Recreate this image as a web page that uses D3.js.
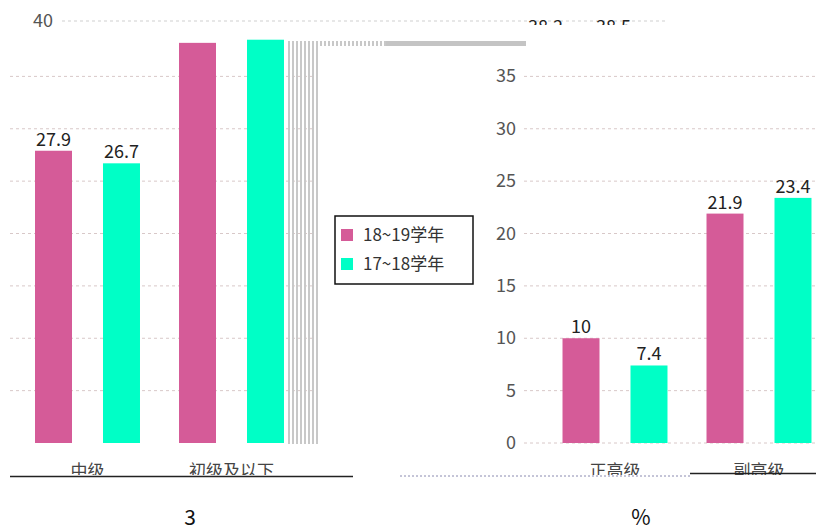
<!DOCTYPE html>
<html>
<head>
<meta charset="utf-8">
<script src="https://cdn.jsdelivr.net/npm/d3@7"></script>
<style>
  body { margin: 0; background: #fff; }
  svg { display: block; font-family: "Noto Sans CJK SC", "DejaVu Sans", sans-serif; }
</style>
</head>
<body>
<div id="chart"></div>
<script>
// data
const seriesNames = ["18~19学年", "17~18学年"];
const seriesColors = ["#d55b98", "#00ffc6"];
const leftCats = ["中级", "初级及以下"];
const leftA = [27.9, 38.2];
const leftB = [26.7, 38.5];
const rightCats = ["正高级", "副高级"];
const rightA = [10, 21.9];
const rightB = [7.4, 23.4];
const yTicks = [0, 5, 10, 15, 20, 25, 30, 35];
const titles = ["3", "%"];

const W = 816, H = 531;

let svg = d3.select("#chart")
    .append("svg")
    .attr("width", W)
    .attr("height", H);

let defs = svg.append("defs");
defs.append("clipPath").attr("id", "clipLabels")
    .append("rect").attr("x", 0).attr("y", 0).attr("width", W).attr("height", 475);
defs.append("clipPath").attr("id", "clipTop")
    .append("rect").attr("x", 0).attr("y", 0).attr("width", W).attr("height", 25);
let pat = defs.append("pattern").attr("id", "stripes")
    .attr("patternUnits", "userSpaceOnUse").attr("width", 4).attr("height", 4);
pat.append("rect").attr("x", 0).attr("y", 0).attr("width", 2).attr("height", 4).attr("fill", "#c8c8c8");

/* Scales */
let yScale = d3.scaleLinear().domain([0, 40]).range([443, 24]);

let xLeft = d3.scaleBand().domain(leftCats).range([15.5, 303.5]);
let xRight = d3.scaleBand().domain(rightCats).range([543, 831]);
let xSub = d3.scaleBand().domain(seriesNames)
    .range([0, 144]).paddingInner(0.456).paddingOuter(0.287);

/* Gridlines */
let grid = svg.append("g");
grid.selectAll(".gl")
    .data(yTicks.filter(d => d > 0))
    .enter().append("line")
    .attr("x1", 10).attr("x2", 318)
    .attr("y1", d => yScale(d)).attr("y2", d => yScale(d))
    .attr("stroke", "#d8c8c8").attr("stroke-dasharray", "3,3");
grid.selectAll(".gr")
    .data(yTicks)
    .enter().append("line")
    .attr("x1", 524).attr("x2", W)
    .attr("y1", d => yScale(d)).attr("y2", d => yScale(d))
    .attr("stroke", "#d8c8c8").attr("stroke-dasharray", "3,3");
// top gridline (40)
grid.append("line")
    .attr("x1", 62).attr("x2", 665)
    .attr("y1", 21).attr("y2", 21)
    .attr("stroke", "#cfcfcf").attr("stroke-dasharray", "3,3");

// left "40" label
svg.append("text")
    .attr("x", 53).attr("y", 27)
    .attr("text-anchor", "end")
    .attr("font-size", 18)
    .attr("fill", "#555")
    .text("40");

/* Gray striped artifact */
svg.append("rect")
    .attr("x", 286).attr("y", 41).attr("width", 32).attr("height", 403)
    .attr("fill", "url(#stripes)");
svg.append("rect")
    .attr("x", 318).attr("y", 41).attr("width", 68).attr("height", 5)
    .attr("fill", "url(#stripes)");
svg.append("rect")
    .attr("x", 386).attr("y", 41).attr("width", 140).attr("height", 5)
    .attr("fill", "#c4c4c4");

/* Right y-axis labels */
svg.append("g").selectAll("text")
    .data(yTicks)
    .enter().append("text")
    .attr("x", 516)
    .attr("y", d => yScale(d) + 6)
    .attr("text-anchor", "end")
    .attr("font-size", 18)
    .attr("fill", "#555")
    .text(d => d);

/* Bars */
function drawGroup(xScale, cats, a, b, showLabel) {
    let g = svg.append("g");
    let rows = cats.map((c, i) => ({ cat: c, vals: [a[i], b[i]] }));
    let groups = g.selectAll(".grp")
        .data(rows)
        .enter().append("g")
        .attr("transform", d => `translate(${xScale(d.cat)},0)`);
    groups.selectAll("rect")
        .data(d => d.vals.map((v, j) => ({ s: seriesNames[j], v: v, j: j })))
        .enter().append("rect")
        .attr("x", d => xSub(d.s))
        .attr("y", d => yScale(d.v))
        .attr("width", xSub.bandwidth())
        .attr("height", d => yScale(0) - yScale(d.v))
        .attr("fill", d => seriesColors[d.j]);

    groups.filter((d, i) => showLabel(i))
        .selectAll("text")
        .data(d => d.vals.map((v, j) => ({ s: seriesNames[j], v: v })))
        .enter().append("text")
        .attr("x", d => xSub(d.s) + xSub.bandwidth() / 2)
        .attr("y", d => yScale(d.v) - 5)
        .attr("text-anchor", "middle")
        .attr("font-size", 18)
        .attr("fill", "#222")
        .text(d => d.v);

    // category labels, cut by the axis line
    svg.append("g").attr("clip-path", "url(#clipLabels)")
        .selectAll("text")
        .data(cats)
        .enter().append("text")
        .attr("x", d => xScale(d) + xScale.bandwidth() / 2)
        .attr("y", 477)
        .attr("text-anchor", "middle")
        .attr("font-size", 17)
        .attr("fill", "#444")
        .text(d => d);
}

// the top labels of the left second group appear displaced to the top right
drawGroup(xLeft, leftCats, leftA, leftB, i => i === 0);
drawGroup(xRight, rightCats, rightA, rightB, () => true);

// displaced labels 38.2 / 38.5
let dl = svg.append("g")
    .attr("clip-path", "url(#clipTop)")
    .append("g")
    .attr("transform", `translate(${xLeft(leftCats[1]) + 348},0)`);
dl.selectAll("text")
    .data([leftA[1], leftB[1]].map((v, j) => ({ s: seriesNames[j], v: v })))
    .enter().append("text")
    .attr("x", d => xSub(d.s) + xSub.bandwidth() / 2)
    .attr("y", 33)
    .attr("text-anchor", "middle")
    .attr("font-size", 18)
    .attr("fill", "#222")
    .text(d => d.v);

/* Axis lines */
svg.append("line")
    .attr("x1", 10).attr("x2", 353).attr("y1", 476.5).attr("y2", 476.5)
    .attr("stroke", "#222").attr("stroke-width", 1.5);
svg.append("line")
    .attr("x1", 400).attr("x2", 690).attr("y1", 476).attr("y2", 476)
    .attr("stroke", "#8a8ab0").attr("stroke-dasharray", "2,2");
svg.append("line")
    .attr("x1", 690).attr("x2", W).attr("y1", 473.5).attr("y2", 473.5)
    .attr("stroke", "#222").attr("stroke-width", 1.5);

/* Legend */
let legend = svg.append("g").attr("transform", "translate(335,216)");
legend.append("rect")
    .attr("width", 138).attr("height", 68)
    .attr("fill", "#fff")
    .attr("stroke", "#111").attr("stroke-width", 1.5);
let items = legend.selectAll(".item")
    .data(seriesNames)
    .enter().append("g")
    .attr("transform", (d, i) => `translate(6,${13 + i * 29})`);
items.append("rect")
    .attr("width", 12).attr("height", 12)
    .attr("fill", (d, i) => seriesColors[i]);
items.append("text")
    .attr("x", 22).attr("y", 12)
    .attr("font-size", 17)
    .attr("fill", "#333")
    .text(d => d);

/* Titles */
svg.selectAll(".title")
    .data(titles)
    .enter().append("text")
    .attr("x", (d, i) => i === 0 ? 190 : 641)
    .attr("y", 525)
    .attr("text-anchor", "middle")
    .attr("font-size", 21)
    .attr("fill", "#111")
    .text(d => d);
</script>
</body>
</html>
